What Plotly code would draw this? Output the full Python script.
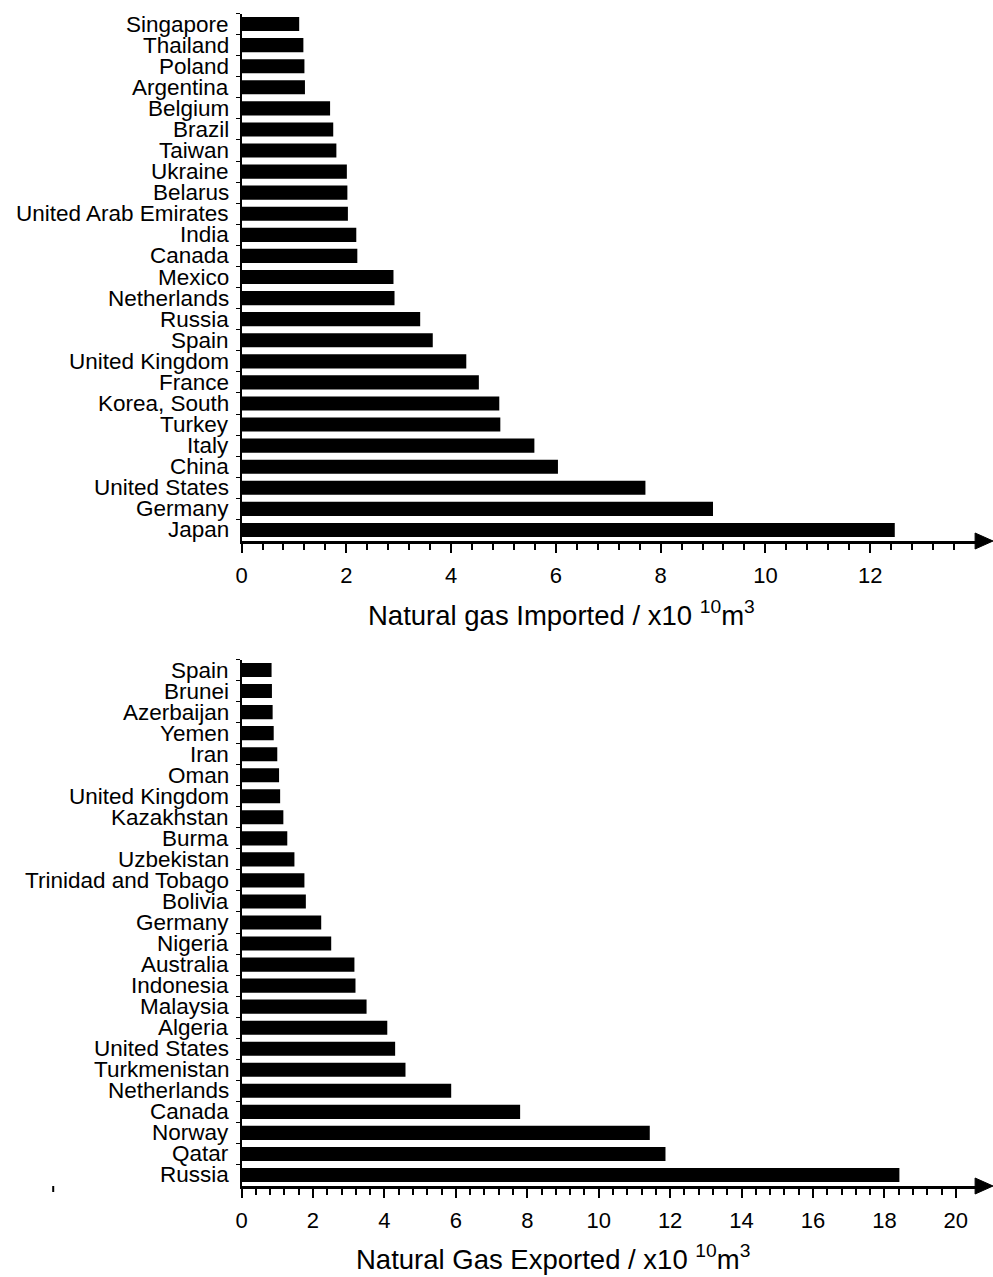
import numpy as np
import plotly.graph_objects as go

W, H = 993, 1277

# ---------------- data ----------------
import_countries = ["Singapore", "Thailand", "Poland", "Argentina", "Belgium", "Brazil", "Taiwan",
                    "Ukraine", "Belarus", "United Arab Emirates", "India", "Canada", "Mexico",
                    "Netherlands", "Russia", "Spain", "United Kingdom", "France", "Korea, South",
                    "Turkey", "Italy", "China", "United States", "Germany", "Japan"]
import_values = [1.10, 1.18, 1.20, 1.21, 1.69, 1.75, 1.81, 2.01, 2.02, 2.03, 2.19, 2.21, 2.90,
                 2.92, 3.41, 3.65, 4.29, 4.53, 4.92, 4.94, 5.59, 6.04, 7.71, 9.00, 12.47]

export_countries = ["Spain", "Brunei", "Azerbaijan", "Yemen", "Iran", "Oman", "United Kingdom",
                    "Kazakhstan", "Burma", "Uzbekistan", "Trinidad and Tobago", "Bolivia",
                    "Germany", "Nigeria", "Australia", "Indonesia", "Malaysia", "Algeria",
                    "United States", "Turkmenistan", "Netherlands", "Canada", "Norway", "Qatar",
                    "Russia"]
export_values = [0.84, 0.85, 0.87, 0.90, 1.00, 1.05, 1.08, 1.17, 1.28, 1.48, 1.76, 1.80,
                 2.23, 2.51, 3.16, 3.19, 3.50, 4.08, 4.30, 4.59, 5.87, 7.80, 11.43, 11.87, 18.42]

import_major_ticks = [0, 2, 4, 6, 8, 10, 12]
export_major_ticks = [0, 2, 4, 6, 8, 10, 12, 14, 16, 18, 20]

import_title = "Natural gas Imported / x10 <sup>10</sup>m<sup>3</sup>"
export_title = "Natural Gas Exported / x10 <sup>10</sup>m<sup>3</sup>"

FONT = "Liberation Sans, Arial, sans-serif"


def px_x(p):
    return p / W


def px_y(p):
    return 1 - p / H


fig = go.Figure()
fig.add_trace(go.Bar(x=import_values, y=import_countries, orientation="h",
                     marker=dict(color="black", line=dict(color="black", width=0)),
                     xaxis="x", yaxis="y", showlegend=False))
fig.add_trace(go.Bar(x=export_values, y=export_countries, orientation="h",
                     marker=dict(color="black", line=dict(color="black", width=0)),
                     xaxis="x2", yaxis="y2", showlegend=False))

xdom = [px_x(237), px_x(978)]

common_x = dict(showline=True, linecolor="black", linewidth=2.5, ticks="outside",
                ticklen=10, tickwidth=1.5, tickcolor="black", showgrid=False, zeroline=False,
                tickfont=dict(family=FONT, size=22, color="black"), ticklabelstandoff=3)
common_y = dict(showline=True, linecolor="black", linewidth=2, ticks="outside",
                ticklen=4, tickwidth=1, tickcolor="black", showgrid=False, zeroline=False,
                tickson="boundaries", type="category", showticklabels=False)

fig.update_layout(
    width=W, height=H, margin=dict(l=0, r=0, t=0, b=0),
    paper_bgcolor="white", plot_bgcolor="white", bargap=0.33,
    xaxis=dict(domain=xdom, range=[0, (978 - 237) / 52.7], anchor="y",
               tickmode="array", tickvals=import_major_ticks,
               minor=dict(tickmode="array", tickvals=list(np.round(np.arange(0, 13.61, 0.4), 2)),
                          ticks="outside", ticklen=7, tickwidth=1.5, tickcolor="black"),
               **common_x),
    yaxis=dict(domain=[px_y(540.5), px_y(13.5)], anchor="x", range=[24.5, -0.5],
               categoryorder="array", categoryarray=import_countries, **common_y),
    xaxis2=dict(domain=xdom, range=[0, (978 - 237) / 35.93], anchor="y2",
                tickmode="array", tickvals=export_major_ticks,
                minor=dict(tickmode="array", tickvals=list(np.round(np.arange(0, 20.01, 0.4), 2)),
                           ticks="outside", ticklen=7, tickwidth=1.5, tickcolor="black"),
                **common_x),
    yaxis2=dict(domain=[px_y(1185.5), px_y(659.5)], anchor="x2", range=[24.5, -0.5],
                categoryorder="array", categoryarray=export_countries, **common_y),
)

# category labels (drawn as text so none is hidden)
for cats, yref in ((import_countries, "y"), (export_countries, "y2")):
    for c in cats:
        fig.add_annotation(text=c, xref="paper", yref=yref, x=px_x(225), y=c,
                           xanchor="right", yanchor="middle", showarrow=False,
                           borderpad=0, font=dict(family=FONT, size=22.5, color="black"))

# arrow heads at the right end of the x axes
for yax in (541, 1186):
    fig.add_shape(type="path", xref="paper", yref="paper",
                  path=f"M {px_x(975)},{px_y(yax - 8)} L {px_x(993)},{px_y(yax)} "
                       f"L {px_x(975)},{px_y(yax + 8)} Z",
                  fillcolor="black", line=dict(color="black", width=1))

# small stray mark in the lower panel
fig.add_shape(type="line", xref="paper", yref="paper",
              x0=px_x(47.5), x1=px_x(47.5), y0=px_y(1186), y1=px_y(1192),
              line=dict(color="black", width=2))

fig.add_annotation(text=import_title, xref="paper", yref="paper",
                   x=px_x(559), y=px_y(614), xanchor="center", yanchor="middle",
                   showarrow=False, borderpad=0, font=dict(family=FONT, size=27.5, color="black"))
fig.add_annotation(text=export_title, xref="paper", yref="paper",
                   x=px_x(550), y=px_y(1257), xanchor="center", yanchor="middle",
                   showarrow=False, borderpad=0, font=dict(family=FONT, size=27.5, color="black"))

fig.write_html("out.html")
